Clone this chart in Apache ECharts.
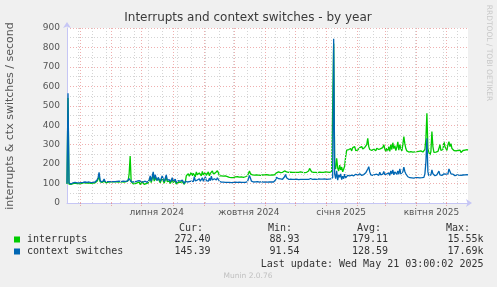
<!DOCTYPE html>
<html>
<head>
<meta charset="utf-8">
<script src="https://cdn.jsdelivr.net/npm/echarts@6/dist/echarts.min.js"></script>
<style>
html,body{margin:0;padding:0;background:#F0F0F0;}
#c{width:497px;height:287px;}
</style>
</head>
<body>
<div id="c"></div>
<script>
// ---- data (daily averages, starting 2024-04-17) ----
const startDate = Date.UTC(2024, 3, 17, 12);
const interrupts = [
98,540,97,95,96,98,100,97,102,100,
100,102,98,104,100,99,103,98,104,100,
102,100,104,102,101,103,102,106,104,108,
112,120,135,110,104,106,108,112,106,104,
108,107,108,109,108,110,108,109,108,110,
109,108,110,109,108,109,110,108,109,110,
112,115,150,242,110,100,98,96,100,97,
104,98,108,95,100,110,100,96,104,100,
98,104,110,130,105,125,150,112,135,118,
108,125,115,104,110,130,115,102,118,135,
110,105,112,100,108,120,105,102,115,98,
104,108,100,106,98,110,102,96,108,140,
142,150,138,145,158,140,152,148,135,160,
145,138,155,148,140,162,145,150,158,142,
148,160,140,152,145,165,150,142,155,148,
166,155,140,138,140,139,138,140,139,138,
136,134,132,130,131,133,130,132,134,135,
135,134,133,132,134,133,132,138,135,134,
140,152,165,150,142,145,144,143,145,144,
146,143,144,142,145,144,143,145,144,146,
143,144,145,143,144,144,143,145,148,155,
165,160,158,156,160,158,160,165,172,160,
157,158,156,159,157,158,156,157,159,158,
156,157,158,160,157,158,157,156,159,158,
160,165,178,182,160,157,158,159,157,158,
156,158,159,157,158,159,158,157,160,158,
159,157,158,160,162,165,820,190,175,230,
180,165,195,170,185,160,175,190,240,272,
265,275,270,280,268,285,275,290,270,278,
272,280,285,275,290,278,282,286,280,300,
333,290,275,280,270,265,278,272,268,282,
290,275,268,280,270,285,300,278,265,282,
270,290,265,300,275,310,280,295,270,285,
315,272,300,280,268,300,341,305,280,268,
265,262,268,264,266,262,265,263,268,264,
262,266,264,268,263,262,265,275,330,461,
280,260,247,265,367,290,260,255,262,270,
265,280,300,270,262,275,315,290,280,270,
300,315,290,305,280,275,270,265,268,262,
270,265,272,260,268,270,264,272,266,274,272
];
const contextSwitches = [
100,565,102,100,98,100,104,100,106,104,
103,105,104,107,105,104,106,103,108,105,
106,104,108,106,105,107,106,110,108,112,
118,130,158,120,108,110,112,123,110,108,
110,109,110,111,110,112,110,111,110,112,
111,110,112,111,110,111,112,110,111,113,
112,115,125,132,110,104,108,106,110,108,
112,107,115,105,110,120,108,104,112,108,
106,110,118,140,112,135,160,120,145,128,
115,132,125,112,118,140,122,110,128,144,
118,112,120,108,115,130,112,108,122,104,
110,115,106,112,104,118,108,100,112,110,
108,112,110,115,112,120,110,135,114,112,
118,110,125,112,115,130,112,120,135,115,
118,112,128,115,138,118,112,125,135,118,
130,122,112,108,107,106,107,106,106,107,
106,107,106,106,105,107,106,106,107,106,
106,106,107,106,106,107,106,108,106,107,
110,125,142,128,112,110,108,107,109,108,
110,108,107,108,110,108,107,108,109,108,
107,108,109,110,108,110,108,112,118,132,
130,125,122,124,123,122,125,135,147,130,
124,122,121,123,122,121,120,122,121,123,
122,120,121,122,123,122,120,121,123,122,
124,121,122,126,122,121,122,123,122,121,
123,124,122,123,122,123,122,124,123,122,
124,123,125,124,126,130,845,150,125,165,
118,145,132,150,120,138,125,148,130,140,
142,145,140,148,143,146,140,144,148,145,
143,147,150,145,142,148,146,150,155,160,
175,187,160,145,150,142,140,146,143,148,
150,142,158,145,140,148,162,146,140,150,
145,155,142,165,150,170,145,160,152,148,
165,148,175,150,144,160,185,162,150,140,
135,132,130,131,129,130,128,132,130,131,
130,132,129,131,130,133,132,150,210,333,
160,140,135,145,170,150,142,140,138,145,
150,164,145,140,142,138,150,160,148,140,
150,175,165,150,145,148,146,140,142,145,
140,143,145,142,146,144,147,145,143,146,145
];
const seriesNames = ['interrupts', 'context switches'];
const tickLabels = ['липня 2024', 'жовтня 2024', 'січня 2025', 'квітня 2025'];
const tickMonths = [[2024, 6], [2024, 9], [2025, 0], [2025, 3]];
const yTicks = [0, 100, 200, 300, 400, 500, 600, 700, 800, 900];
const curValues = ['272.40', '145.39'];
const minValues = ['88.93', '91.54'];
const avgValues = ['179.11', '128.59'];
const maxValues = ['15.55k', '17.69k'];
const lastUpdate = 'Last update: Wed May 21 03:00:02 2025';

// ---- build ----
const DAY = 86400000;
const xMin = startDate;
const xMax = startDate + 400 * DAY;
const toPairs = arr => arr.map((v, i) => [startDate + i * DAY, v]);

const tickTimes = tickMonths.map(([y, m]) => Date.UTC(y, m, 1) + 15 * DAY);

// grid lines: monthly (major, red) and fortnightly Mondays (minor, grey)
const gridMarks = [];
const monthStarts = [];
for (let t = Date.UTC(2024, 3, 29); t < xMax; t += 14 * DAY) {
  gridMarks.push({ xAxis: t, lineStyle: { color: '#d4d4d4', type: [1, 2], width: 1 } });
}
for (let y = 2024, m = 4; ; ) {
  const t = Date.UTC(y, m, 1);
  if (t > xMax) break;
  monthStarts.push(t);
  gridMarks.push({ xAxis: t, lineStyle: { color: 'rgba(225,110,110,0.55)', type: [1, 2], width: 1 } });
  m++; if (m > 11) { m = 0; y++; }
}

const mono = '"DejaVu Sans Mono", monospace';
const sans = '"DejaVu Sans", sans-serif';
const txt = '#333';
const g = [];
function T(x, y, text, opts) {
  g.push({ type: 'text', x: x, y: y, silent: true,
    style: Object.assign({ text: text, fill: txt, font: '10px ' + mono, textAlign: 'left', textVerticalAlign: 'middle' }, opts || {}) });
}
T(248, 18, 'Interrupts and context switches - by year', { font: '12px ' + sans, textAlign: 'center', fill: '#3a3a3a' });
g.push({ type: 'text', x: 10, y: 116, rotation: Math.PI / 2, silent: true,
  style: { text: 'interrupts & ctx switches / second', font: '11px ' + sans, fill: '#555', textAlign: 'center', textVerticalAlign: 'middle' } });
g.push({ type: 'text', x: 489, y: 53, rotation: -Math.PI / 2, silent: true,
  style: { text: 'RRDTOOL / TOBI OETIKER', font: '7.5px ' + sans, fill: '#c8c8c8', textAlign: 'center', textVerticalAlign: 'middle' } });
T(203, 228, 'Cur:', { textAlign: 'right' });
T(292, 228, 'Min:', { textAlign: 'right' });
T(381, 228, 'Avg:', { textAlign: 'right' });
T(470, 228, 'Max:', { textAlign: 'right' });
const colors = ['#00CC00', '#0066B3'];
[239.5, 251.5].forEach((yy, i) => {
  g.push({ type: 'rect', shape: { x: 14, y: yy - 3, width: 6, height: 6 }, style: { fill: colors[i] }, silent: true });
  T(27, yy, seriesNames[i]);
  T(210.5, yy, curValues[i], { textAlign: 'right' });
  T(299.5, yy, minValues[i], { textAlign: 'right' });
  T(388, yy, avgValues[i], { textAlign: 'right' });
  T(483.5, yy, maxValues[i], { textAlign: 'right' });
});
T(483.5, 264, lastUpdate, { textAlign: 'right' });
T(248, 276.5, 'Munin 2.0.76', { font: '7.5px ' + sans, fill: '#c0c0c0', textAlign: 'center' });

const axisColor = '#c6c6f5';
const chart = echarts.init(document.getElementById('c'), null, { renderer: 'canvas' });
chart.setOption({
  animation: false,
  backgroundColor: '#F0F0F0',
  grid: { left: 67, top: 28, width: 401, height: 175, show: true, backgroundColor: '#FFFFFF', borderWidth: 0 },
  xAxis: {
    type: 'value', min: xMin, max: xMax,
    axisLine: { show: true, lineStyle: { color: axisColor, width: 1 }, symbol: ['none', 'arrow'], symbolSize: [6, 6], symbolOffset: [0, 4] },
    axisTick: { show: true, customValues: monthStarts, length: 3, lineStyle: { color: 'rgba(225,110,110,0.55)', type: [1, 1] } },
    splitLine: { show: false },
    axisLabel: {
      customValues: tickTimes, color: '#555', fontSize: 9, fontFamily: sans, margin: 5,
      formatter: v => {
        let best = 0, bd = Infinity;
        tickTimes.forEach((t, i) => { const d = Math.abs(t - v); if (d < bd) { bd = d; best = i; } });
        return tickLabels[best];
      }
    }
  },
  yAxis: {
    type: 'value', min: 0, max: 900, interval: 100,
    axisLine: { show: true, lineStyle: { color: axisColor, width: 1 }, symbol: ['none', 'arrow'], symbolSize: [6, 6], symbolOffset: [0, 6] },
    axisTick: { show: false },
    axisLabel: { color: '#555', fontSize: 9, fontFamily: sans, margin: 7,
      formatter: v => (yTicks.indexOf(v) >= 0 ? String(v) : '') },
    splitLine: { show: true, lineStyle: { color: 'rgba(225,110,110,0.55)', type: [1, 2], width: 1 } },
    minorTick: { show: false, splitNumber: 2 },
    minorSplitLine: { show: true, lineStyle: { color: '#d4d4d4', type: [1, 2], width: 1 } }
  },
  series: [
    { type: 'line', name: 'grid', data: [], z: 1, silent: true,
      markLine: { silent: true, symbol: ['none', 'none'], label: { show: false }, animation: false, data: gridMarks } },
    { type: 'line', name: seriesNames[0], data: toPairs(interrupts), showSymbol: false, z: 3,
      lineStyle: { color: colors[0], width: 1.3 }, itemStyle: { color: colors[0] } },
    { type: 'line', name: seriesNames[1], data: toPairs(contextSwitches), showSymbol: false, z: 4,
      lineStyle: { color: colors[1], width: 1.3 }, itemStyle: { color: colors[1] } }
  ],
  graphic: g
});
</script>
</body>
</html>
